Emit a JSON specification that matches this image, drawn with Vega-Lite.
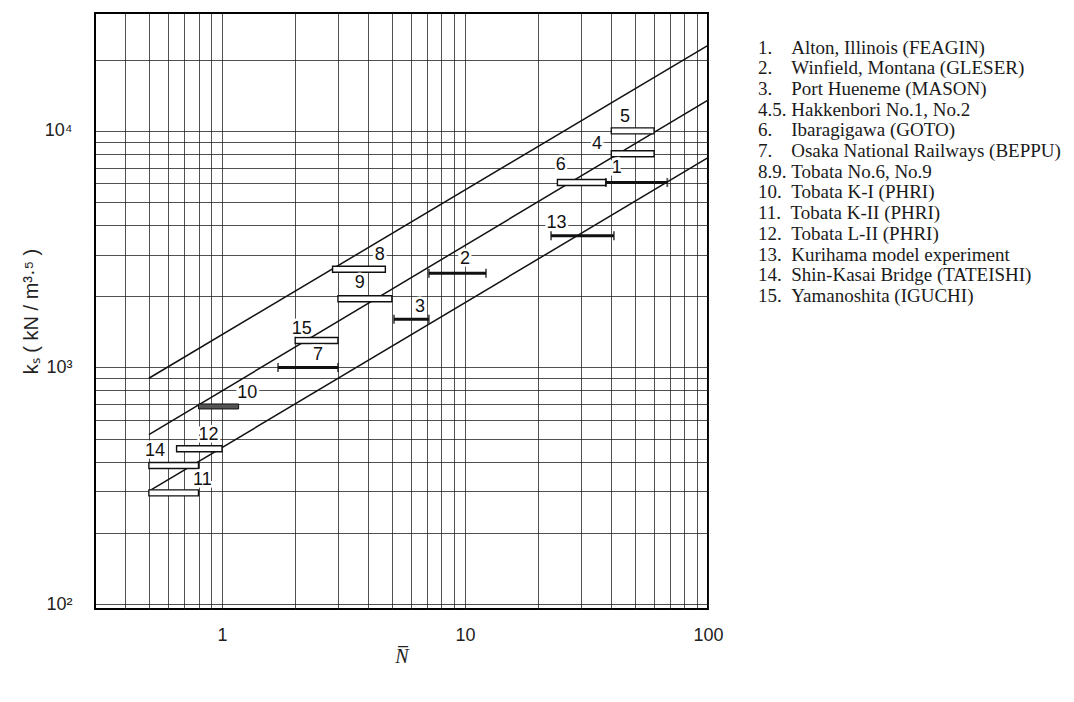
{
  "$schema": "https://vega.github.io/schema/vega-lite/v6.json",
  "width": 613,
  "height": 596,
  "autosize": "none",
  "padding": {"left": 95, "top": 13, "right": 366, "bottom": 93},
  "background": "white",
  "config": {
    "view": {"stroke": "black", "strokeWidth": 2},
    "axis": {
      "grid": true,
      "gridColor": "#1a1a1a",
      "gridWidth": 0.9,
      "gridOpacity": 0.85,
      "ticks": false,
      "tickSize": 0,
      "domain": false,
      "labelFont": "Liberation Sans",
      "labelFontSize": 18,
      "labelColor": "#222",
      "labelFlush": false,
      "labelOverlap": false,
      "labelBound": false
    },
    "legend": {
      "orient": "none",
      "legendX": 644,
      "legendY": 25,
      "title": null,
      "padding": 0,
      "symbolSize": 0,
      "symbolOpacity": 0,
      "symbolStrokeWidth": 0,
      "labelOffset": 0,
      "labelFont": "Liberation Serif",
      "labelFontSize": 19,
      "labelColor": "#1a1a1a",
      "labelLimit": 0,
      "rowPadding": 0.7
    }
  },
  "datasets": {
    "lines": [
      {"line": "upper", "N": 0.5, "k": 900},
      {"line": "upper", "N": 100, "k": 23000},
      {"line": "middle", "N": 0.5, "k": 520},
      {"line": "middle", "N": 100, "k": 13500},
      {"line": "lower", "N": 0.5, "k": 300},
      {"line": "lower", "N": 100, "k": 7700}
    ],
    "bars": [
      {"id": "1", "type": "solid", "n1": 38, "n2": 68, "k": 6050},
      {"id": "2", "type": "solid", "n1": 7.1, "n2": 12.2, "k": 2500},
      {"id": "3", "type": "solid", "n1": 5.1, "n2": 7.1, "k": 1600},
      {"id": "4", "type": "open", "n1": 40, "n2": 60, "k": 8000},
      {"id": "5", "type": "open", "n1": 40, "n2": 60, "k": 10000},
      {"id": "6", "type": "open", "n1": 24, "n2": 38, "k": 6050},
      {"id": "7", "type": "solid", "n1": 1.7, "n2": 3.0, "k": 1000},
      {"id": "8", "type": "open", "n1": 2.85, "n2": 4.7, "k": 2600},
      {"id": "9", "type": "open", "n1": 3.0, "n2": 5.0, "k": 1950},
      {"id": "10", "type": "shaded", "n1": 0.8, "n2": 1.17, "k": 684},
      {"id": "11", "type": "open", "n1": 0.5, "n2": 0.8, "k": 295},
      {"id": "12", "type": "open", "n1": 0.65, "n2": 1.0, "k": 453},
      {"id": "13", "type": "solid", "n1": 22.6, "n2": 41, "k": 3600},
      {"id": "14", "type": "open", "n1": 0.5, "n2": 0.8, "k": 385},
      {"id": "15", "type": "open", "n1": 2.0, "n2": 3.0, "k": 1300}
    ],
    "labels": [
      {"label": "1", "N": 42.1, "k": 7000, "site": "1.\u00a0\u00a0\u00a0\u00a0Alton, Illinois (FEAGIN)"},
      {"label": "2", "N": 10.0, "k": 2875, "site": "2.\u00a0\u00a0\u00a0\u00a0Winfield, Montana (GLESER)"},
      {"label": "3", "N": 6.52, "k": 1800, "site": "3.\u00a0\u00a0\u00a0\u00a0Port Hueneme (MASON)"},
      {"label": "4", "N": 34.9, "k": 8810, "site": "4.5.\u00a0Hakkenbori No.1, No.2"},
      {"label": "5", "N": 45.5, "k": 11400, "site": "4.5.\u00a0Hakkenbori No.1, No.2"},
      {"label": "6", "N": 24.8, "k": 7140, "site": "6.\u00a0\u00a0\u00a0\u00a0Ibaragigawa (GOTO)"},
      {"label": "7", "N": 2.48, "k": 1126, "site": "7.\u00a0\u00a0\u00a0\u00a0Osaka National Railways (BEPPU)"},
      {"label": "8", "N": 4.46, "k": 2990, "site": "8.9.\u00a0Tobata No.6, No.9"},
      {"label": "9", "N": 3.69, "k": 2265, "site": "8.9.\u00a0Tobata No.6, No.9"},
      {"label": "10", "N": 1.27, "k": 783, "site": "10.\u00a0\u00a0Tobata K-I (PHRI)"},
      {"label": "11", "N": 0.83, "k": 334, "site": "11.\u00a0\u00a0Tobata K-II (PHRI)"},
      {"label": "12", "N": 0.88, "k": 519, "site": "12.\u00a0\u00a0Tobata L-II (PHRI)"},
      {"label": "13", "N": 23.8, "k": 4060, "site": "13.\u00a0\u00a0Kurihama model experiment"},
      {"label": "14", "N": 0.53, "k": 445, "site": "14.\u00a0\u00a0Shin-Kasai Bridge (TATEISHI)"},
      {"label": "15", "N": 2.13, "k": 1458, "site": "15.\u00a0\u00a0Yamanoshita (IGUCHI)"}
    ]
  },
  "layer": [
    {
      "data": {"name": "lines"},
      "mark": {"type": "line", "color": "#111", "strokeWidth": 1.5},
      "encoding": {
        "x": {
          "field": "N", "type": "quantitative",
          "scale": {"type": "log", "domain": [0.3, 100], "nice": false},
          "axis": {
            "values": [0.4, 0.5, 0.6, 0.7, 0.8, 0.9, 1, 2, 3, 4, 5, 6, 7, 8, 9, 10, 20, 30, 40, 50, 60, 70, 80, 90, 100],
            "labelExpr": "datum.value == 1 ? '1' : datum.value == 10 ? '10' : datum.value == 100 ? '100' : ''",
            "labelPadding": 17,
            "title": "N\u0305",
            "titleFont": "Liberation Serif",
            "titleFontStyle": "italic",
            "titleFontWeight": "normal",
            "titleFontSize": 20,
            "titleColor": "#222",
            "titlePadding": 2
          }
        },
        "y": {
          "field": "k", "type": "quantitative",
          "scale": {"type": "log", "domain": [100, 30000], "nice": false},
          "axis": {
            "values": [100, 200, 300, 400, 500, 600, 700, 800, 900, 1000, 2000, 3000, 4000, 5000, 6000, 7000, 8000, 9000, 10000, 20000],
            "labelExpr": "datum.value == 100 ? '10\u00b2' : datum.value == 1000 ? '10\u00b3' : datum.value == 10000 ? '10\u2074' : ''",
            "labelPadding": 23,
            "title": "k\u209b   ( kN / m\u00b3\u00b7\u2075 )",
            "titleFont": "Liberation Sans",
            "titleFontWeight": "normal",
            "titleFontSize": 20,
            "titleColor": "#222",
            "titlePadding": 3
          }
        },
        "detail": {"field": "line", "type": "nominal"}
      }
    },
    {
      "data": {"name": "bars"},
      "transform": [{"filter": "datum.type == 'open'"}],
      "mark": {"type": "bar", "orient": "horizontal", "height": 6, "fill": "white", "stroke": "#111", "strokeWidth": 1.4},
      "encoding": {
        "x": {"field": "n1", "type": "quantitative"},
        "x2": {"field": "n2"},
        "y": {"field": "k", "type": "quantitative"}
      }
    },
    {
      "data": {"name": "bars"},
      "transform": [{"filter": "datum.type == 'shaded'"}],
      "mark": {"type": "bar", "orient": "horizontal", "height": 5, "fill": "#555", "stroke": "#111", "strokeWidth": 1},
      "encoding": {
        "x": {"field": "n1", "type": "quantitative"},
        "x2": {"field": "n2"},
        "y": {"field": "k", "type": "quantitative"}
      }
    },
    {
      "data": {"name": "bars"},
      "transform": [{"filter": "datum.type == 'solid'"}],
      "mark": {"type": "rule", "color": "#111", "strokeWidth": 3},
      "encoding": {
        "x": {"field": "n1", "type": "quantitative"},
        "x2": {"field": "n2"},
        "y": {"field": "k", "type": "quantitative"}
      }
    },
    {
      "data": {"name": "bars"},
      "transform": [
        {"filter": "datum.type == 'solid'"},
        {"fold": ["n1", "n2"], "as": ["end", "N"]}
      ],
      "mark": {"type": "tick", "orient": "vertical", "color": "#111", "size": 9, "thickness": 1.8},
      "encoding": {
        "x": {"field": "N", "type": "quantitative"},
        "y": {"field": "k", "type": "quantitative"}
      }
    },
    {
      "data": {"name": "labels"},
      "mark": {"type": "text", "font": "Liberation Sans", "fontSize": 18, "fill": "white", "stroke": "white", "strokeWidth": 5},
      "encoding": {
        "x": {"field": "N", "type": "quantitative"},
        "y": {"field": "k", "type": "quantitative"},
        "text": {"field": "label"}
      }
    },
    {
      "data": {"name": "labels"},
      "mark": {"type": "text", "font": "Liberation Sans", "fontSize": 18},
      "encoding": {
        "x": {"field": "N", "type": "quantitative"},
        "y": {"field": "k", "type": "quantitative"},
        "text": {"field": "label"},
        "color": {
          "field": "site", "type": "nominal",
          "scale": {
            "domain": [
              "1.\u00a0\u00a0\u00a0\u00a0Alton, Illinois (FEAGIN)",
              "2.\u00a0\u00a0\u00a0\u00a0Winfield, Montana (GLESER)",
              "3.\u00a0\u00a0\u00a0\u00a0Port Hueneme (MASON)",
              "4.5.\u00a0Hakkenbori No.1, No.2",
              "6.\u00a0\u00a0\u00a0\u00a0Ibaragigawa (GOTO)",
              "7.\u00a0\u00a0\u00a0\u00a0Osaka National Railways (BEPPU)",
              "8.9.\u00a0Tobata No.6, No.9",
              "10.\u00a0\u00a0Tobata K-I (PHRI)",
              "11.\u00a0\u00a0Tobata K-II (PHRI)",
              "12.\u00a0\u00a0Tobata L-II (PHRI)",
              "13.\u00a0\u00a0Kurihama model experiment",
              "14.\u00a0\u00a0Shin-Kasai Bridge (TATEISHI)",
              "15.\u00a0\u00a0Yamanoshita (IGUCHI)"
            ],
            "range": ["#111111"]
          },
          "legend": {"title": null}
        }
      }
    }
  ]
}
